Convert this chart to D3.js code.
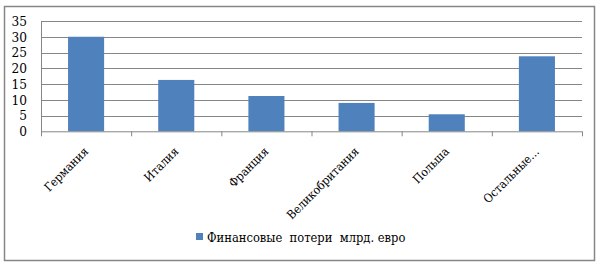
<!DOCTYPE html>
<html>
    <head>
        <meta charset="utf-8">
        <title>Финансовые потери</title>
        <script src="https://d3js.org/d3.v7.min.js"></script>
        <style>
            body { margin: 0; background: #fff; }
        </style>
    </head>
    <body>
        <svg width="600" height="266" id="mainSvg"></svg>
        <script>
            const categories = ["Германия", "Италия", "Франция", "Великобритания", "Польша", "Остальные…"]
            const values = [30, 16.3, 11.2, 9, 5.4, 23.8]
            const yTicks = [0, 5, 10, 15, 20, 25, 30, 35]
            const seriesName = "Финансовые  потери  млрд. евро"

            const font = "'DejaVu Serif Condensed', 'DejaVu Serif'"
            const mainSvg = d3.select("#mainSvg")

            // рамка диаграммы
            mainSvg.append("rect")
                .attr("x", 4.5).attr("y", 6.5)
                .attr("width", 590).attr("height", 254)
                .attr("fill", "#fff")
                .attr("stroke", "#868686")
                .attr("stroke-width", 1.5)

            const margin = {top: 21, left: 41, right: 18}
            const innerWidth = 600 - margin.left - margin.right
            const innerHeight = 131.3 - margin.top

            const g = mainSvg.append("g")
                .attr("transform", `translate(${margin.left}, ${margin.top})`)

            const xScale = d3.scaleBand()
                .domain(categories)
                .range([0, innerWidth])
                .paddingInner(0.6)
                .paddingOuter(0.3)

            const yScale = d3.scaleLinear()
                .domain([0, 35])
                .range([innerHeight, 0])

            // сетка
            g.append("g").selectAll("line").data(yTicks.slice(1)).enter().append("line")
                .attr("x1", 0).attr("x2", innerWidth)
                .attr("y1", d => Math.round(yScale(d)) + 0.5)
                .attr("y2", d => Math.round(yScale(d)) + 0.5)
                .attr("stroke", "#868686")

            // ось Y
            const yAxis = d3.axisLeft(yScale).tickValues(yTicks).tickSize(0).tickPadding(14)
            const yG = g.append("g").call(yAxis)
            yG.select(".domain").attr("stroke", "#868686")
            yG.selectAll("text")
                .style("font-family", font)
                .attr("font-size", 13.5).attr("fill", "#000")

            // столбцы
            g.selectAll(".bar").data(values).enter().append("rect")
                .attr("class", "bar")
                .attr("x", (d, i) => xScale(categories[i]))
                .attr("width", xScale.bandwidth())
                .attr("y", d => yScale(d))
                .attr("height", d => innerHeight - yScale(d))
                .attr("fill", "#4F81BD")

            // ось X
            const xG = g.append("g").attr("transform", `translate(0, ${innerHeight})`)
            xG.append("line")
                .attr("x1", 0).attr("x2", innerWidth)
                .attr("y1", 0.5).attr("y2", 0.5)
                .attr("stroke", "#868686")
            const step = xScale.step()
            xG.selectAll(".tk").data(d3.range(categories.length + 1)).enter().append("line")
                .attr("x1", d => d * step + 0.5).attr("x2", d => d * step + 0.5)
                .attr("y1", 0).attr("y2", 5)
                .attr("stroke", "#868686")
            xG.selectAll(".lbl").data(categories).enter().append("text")
                .attr("transform", d => `translate(${xScale(d) + xScale.bandwidth() / 2 + 3}, 21) rotate(-45)`)
                .attr("text-anchor", "end")
                .style("font-family", font)
                .attr("font-size", 12)
                .text(d => d)

            // легенда
            const legend = mainSvg.append("g").attr("transform", "translate(196, 233)")
            legend.append("rect").attr("width", 7).attr("height", 7).attr("fill", "#4F81BD")
            legend.append("text")
                .attr("x", 11).attr("y", 9)
                .style("font-family", font)
                .attr("font-size", 12.8)
                .style("white-space", "pre")
                .text(seriesName)
        </script>
    </body>
</html>
